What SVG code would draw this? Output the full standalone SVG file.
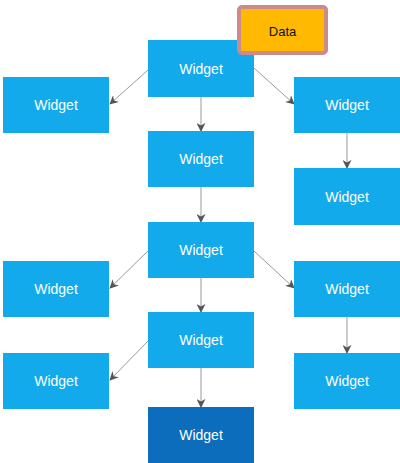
<svg xmlns="http://www.w3.org/2000/svg" width="400" height="463" viewBox="0 0 400 463">
<style>
.w{fill:#12AAEB;}
.d{fill:#0B6DBB;}
.t{font-family:"Liberation Sans",Arial,sans-serif;font-size:14px;fill:#ffffff;text-anchor:middle;dominant-baseline:central;}
.c{stroke:#9a9a9a;stroke-width:1;fill:none;marker-end:url(#ah);}
</style>
<defs>
<marker id="ah" viewBox="0 0 10 10" refX="9" refY="5" markerWidth="9" markerHeight="9" markerUnits="userSpaceOnUse" orient="auto">
<path d="M0,0 L10,5 L0,10 L3,5 Z" fill="#555555"/>
</marker>
</defs>
<rect x="0" y="0" width="400" height="463" fill="#ffffff"/>
<g id="connectors">
<line class="c" x1="201" y1="97" x2="201" y2="131"/>
<line class="c" x1="148" y1="70" x2="110" y2="104"/>
<line class="c" x1="254" y1="68" x2="294" y2="104"/>
<line class="c" x1="347" y1="133" x2="347" y2="168"/>
<line class="c" x1="201" y1="187" x2="201" y2="222"/>
<line class="c" x1="148" y1="251" x2="110" y2="288"/>
<line class="c" x1="254" y1="251" x2="294" y2="288"/>
<line class="c" x1="201" y1="278" x2="201" y2="312"/>
<line class="c" x1="347" y1="317" x2="347" y2="353"/>
<line class="c" x1="148" y1="341" x2="110" y2="380"/>
<line class="c" x1="201" y1="368" x2="201" y2="407"/>
</g>
<g id="w0"><rect class="w" x="148" y="40" width="106" height="57"/><text class="t" x="201" y="69">Widget</text></g>
<g id="data"><rect x="239" y="7" width="87" height="46" rx="3" fill="#FFB900" stroke="#CC8A8A" stroke-width="4"/><text x="282.5" y="31" font-family="Liberation Sans,Arial,sans-serif" font-size="13px" fill="#111111" text-anchor="middle" dominant-baseline="central">Data</text></g>
<g id="wl1"><rect class="w" x="3" y="77" width="106" height="56"/><text class="t" x="56" y="105">Widget</text></g>
<g id="wr1"><rect class="w" x="294" y="77" width="106" height="56"/><text class="t" x="347" y="105">Widget</text></g>
<g id="w1"><rect class="w" x="148" y="131" width="106" height="56"/><text class="t" x="201" y="159">Widget</text></g>
<g id="wr2"><rect class="w" x="294" y="168" width="106" height="57"/><text class="t" x="347" y="197">Widget</text></g>
<g id="w2"><rect class="w" x="148" y="222" width="106" height="56"/><text class="t" x="201" y="250">Widget</text></g>
<g id="wl3"><rect class="w" x="3" y="261" width="106" height="56"/><text class="t" x="56" y="289">Widget</text></g>
<g id="wr3"><rect class="w" x="294" y="261" width="106" height="56"/><text class="t" x="347" y="289">Widget</text></g>
<g id="w3"><rect class="w" x="148" y="312" width="106" height="56"/><text class="t" x="201" y="340">Widget</text></g>
<g id="wl4"><rect class="w" x="3" y="353" width="106" height="56"/><text class="t" x="56" y="381">Widget</text></g>
<g id="wr4"><rect class="w" x="294" y="353" width="106" height="56"/><text class="t" x="347" y="381">Widget</text></g>
<g id="w4"><rect class="d" x="148" y="407" width="106" height="56"/><text class="t" x="201" y="435">Widget</text></g>
</svg>
